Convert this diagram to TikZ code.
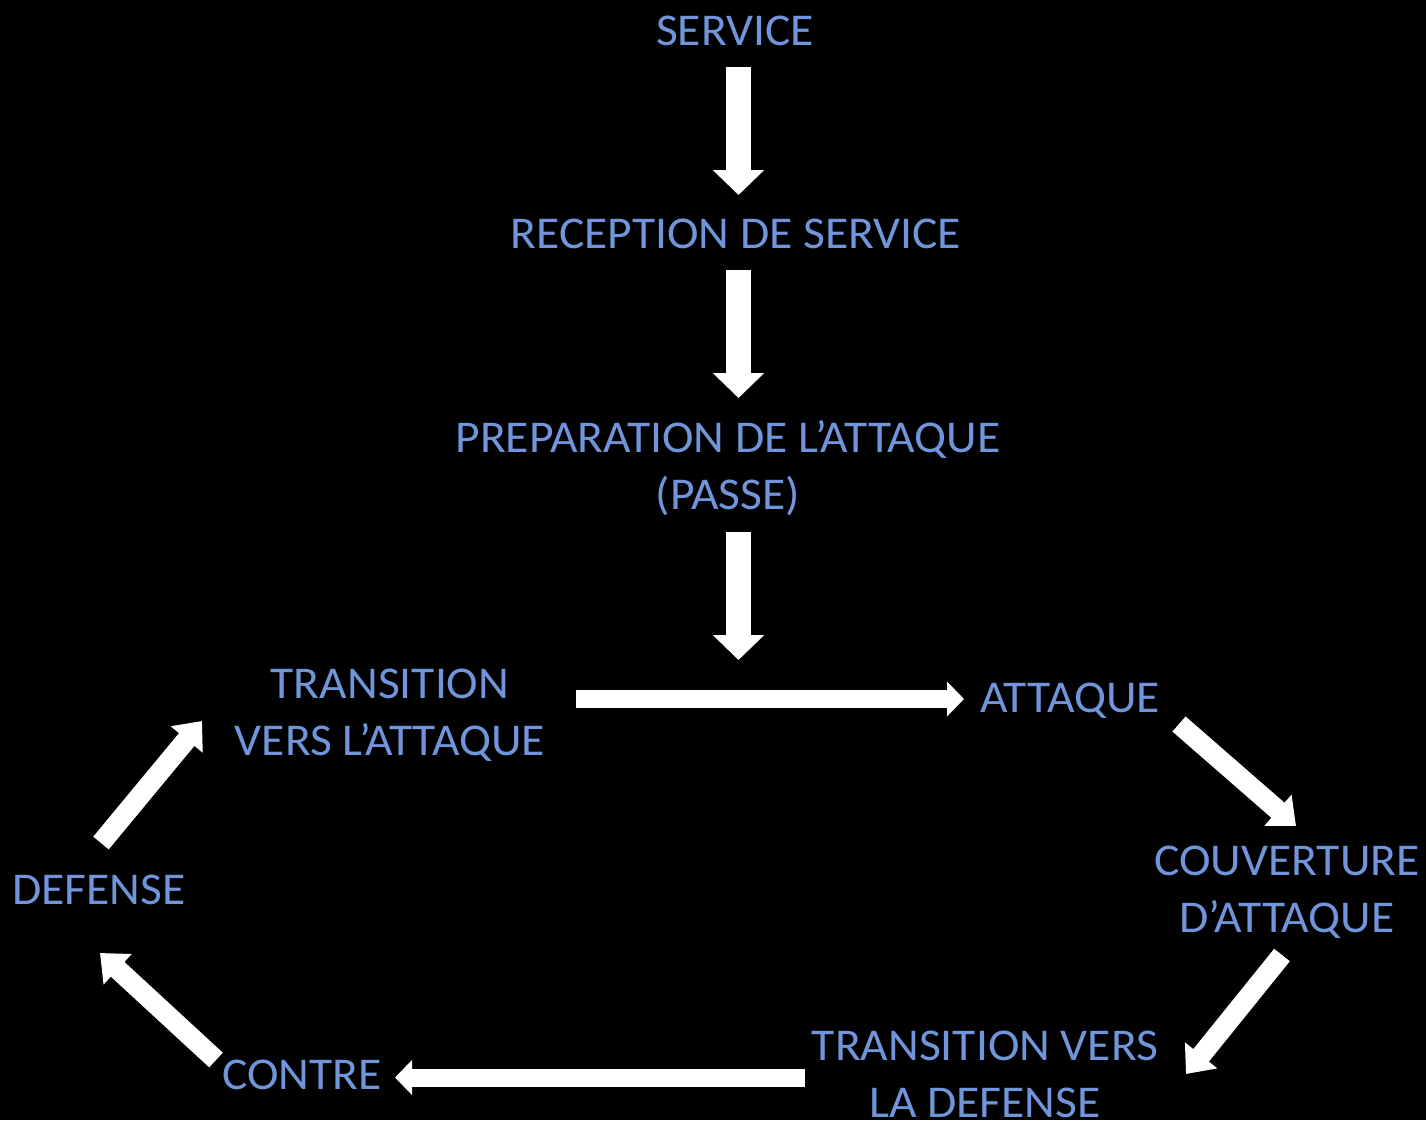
\documentclass[tikz,border=0pt]{standalone}
\usepackage{fontspec}
\setmainfont{Carlito}[FakeStretch=1.045]
\usetikzlibrary{arrows.meta}
\definecolor{txtblue}{RGB}{112,149,218}
\begin{document}
\begin{tikzpicture}[x=1pt,y=-1pt,
  lbl/.style={text=txtblue, font=\fontsize{45.5}{57}\selectfont, inner sep=0pt, anchor=base, align=center},
  varrow/.style={draw=white, line width=25pt, line cap=butt, -{Triangle[width=50pt,length=25pt]}, fill=white},
  harrow/.style={draw=white, line width=18pt, line cap=butt, -{Triangle[width=34pt,length=17pt]}, fill=white},
  darrow/.style={draw=white, line width=20pt, line cap=butt, -{Triangle[width=40pt,length=24pt]}, fill=white}]
\fill[black] (0,0) rectangle (1426,1120);
\useasboundingbox (0,0) rectangle (1426,1120);

\node[lbl] (serv) at (735,45) {SERVICE};
\node[lbl] (recep) at (736,248) {RECEPTION DE SERVICE};
\node[lbl] (prep) at (728,509) {PREPARATION DE L’ATTAQUE\\(PASSE)};
\node[lbl] (trans) at (390,755) {TRANSITION\\VERS L’ATTAQUE};
\node[lbl] (att) at (1070,712) {ATTAQUE};
\node[lbl] (couv) at (1287,932) {COUVERTURE\\D’ATTAQUE};
\node[lbl] (tdef) at (985,1117) {TRANSITION VERS\\LA DEFENSE};
\node[lbl] (contre) at (302,1089) {CONTRE};
\node[lbl] (def) at (99,904) {DEFENSE};

\coordinate (s1) at (738.5,67);  \coordinate (e1) at (738.5,195);
\coordinate (s2) at (738.5,270); \coordinate (e2) at (738.5,398);
\coordinate (s3) at (738.5,532); \coordinate (e3) at (738.5,660);
\coordinate (s4) at (576,699);   \coordinate (e4) at (964,699);
\coordinate (s5) at (1179,724);  \coordinate (e5) at (1296,826);
\coordinate (s6) at (1282,955);  \coordinate (e6) at (1186,1074);
\coordinate (s7) at (805,1077.5); \coordinate (e7) at (395,1077.5);
\coordinate (s8) at (216,1060);  \coordinate (e8) at (100,953);
\coordinate (s9) at (101,843);   \coordinate (e9) at (202,721);

\draw[varrow] (s1) -- (e1);
\draw[varrow] (s2) -- (e2);
\draw[varrow] (s3) -- (e3);
\draw[harrow] (s4) -- (e4);
\draw[darrow] (s5) -- (e5);
\draw[darrow] (s6) -- (e6);
\draw[harrow] (s7) -- (e7);
\draw[darrow] (s8) -- (e8);
\draw[darrow] (s9) -- (e9);
\end{tikzpicture}
\end{document}
